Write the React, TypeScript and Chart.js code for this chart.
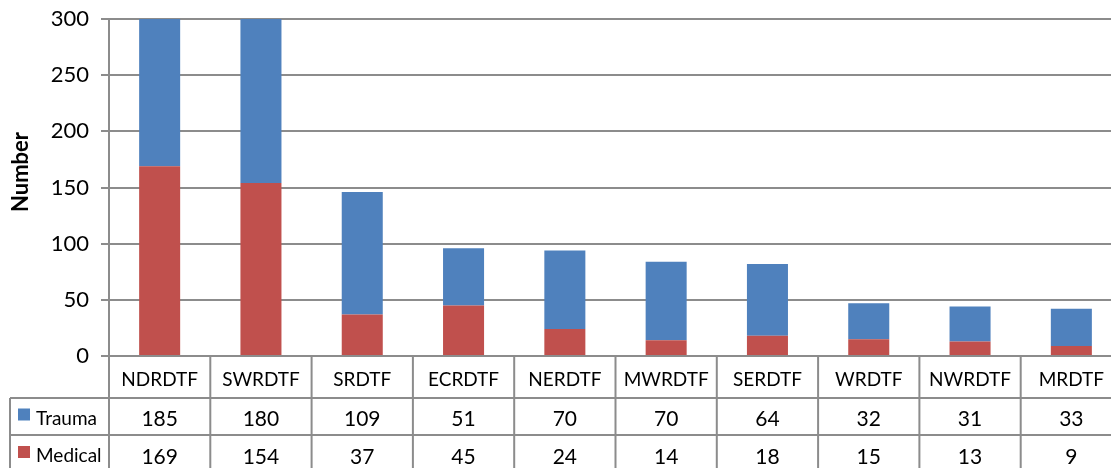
import React, { useEffect, useRef } from "react";
import { Chart, registerables } from "chart.js";

Chart.register(...registerables);

const categories = ["NDRDTF", "SWRDTF", "SRDTF", "ECRDTF", "NERDTF", "MWRDTF", "SERDTF", "WRDTF", "NWRDTF", "MRDTF"];
const medical = [169, 154, 37, 45, 24, 14, 18, 15, 13, 9];
const trauma = [185, 180, 109, 51, 70, 70, 64, 32, 31, 33];
const yTicks = [0, 50, 100, 150, 200, 250, 300];
const yTitle = "Number";

const BLUE = "#4F81BD";
const RED = "#C0504D";
const GRID = "#8c8c8c";
const FONT = "Lato, 'Open Sans', sans-serif";

const tablePlugin = {
  id: "dataTable",
  afterDraw(chart: any) {
    const ctx = chart.ctx;
    const x = chart.scales.x;
    const area = chart.chartArea;
    const n = categories.length;
    const colW = (area.right - area.left) / n;
    const top = area.bottom;
    const r1 = top + 42;
    const r2 = r1 + 37;
    const r3 = r2 + 38;
    const tableLeft = 10;
    ctx.save();
    ctx.strokeStyle = GRID;
    ctx.lineWidth = 2;
    ctx.beginPath();
    ctx.moveTo(tableLeft, r1); ctx.lineTo(area.right, r1);
    ctx.moveTo(tableLeft, r2); ctx.lineTo(area.right, r2);
    ctx.moveTo(tableLeft, r3); ctx.lineTo(area.right, r3);
    ctx.moveTo(tableLeft, r1); ctx.lineTo(tableLeft, r3);
    for (let i = 0; i <= n; i++) {
      const xx = area.left + i * colW;
      ctx.moveTo(xx, top); ctx.lineTo(xx, r3);
    }
    ctx.stroke();

    ctx.fillStyle = "#000";
    ctx.textAlign = "center";
    ctx.textBaseline = "middle";
    categories.forEach((c, i) => {
      const cx = x.getPixelForValue(i);
      ctx.font = `19px ${FONT}`;
      ctx.fillText(c, cx, (top + r1) / 2 + 3);
      ctx.font = `21px ${FONT}`;
      ctx.fillText(String(trauma[i]), cx, (r1 + r2) / 2 + 3);
      ctx.fillText(String(medical[i]), cx, (r2 + r3) / 2 + 3);
    });
    ctx.font = `19px ${FONT}`;
    ctx.textAlign = "left";
    ctx.fillStyle = BLUE;
    ctx.fillRect(18, (r1 + r2) / 2 - 8, 12, 12);
    ctx.fillStyle = RED;
    ctx.fillRect(18, (r2 + r3) / 2 - 8, 12, 12);
    ctx.fillStyle = "#000";
    ctx.fillText("Trauma", 36, (r1 + r2) / 2 + 2);
    ctx.fillText("Medical", 36, (r2 + r3) / 2 + 2);

    // y axis title
    ctx.save();
    ctx.translate(21, 172);
    ctx.rotate(-Math.PI / 2);
    ctx.textAlign = "center";
    ctx.font = `bold 22px ${FONT}`;
    ctx.fillText(yTitle, 0, 0);
    ctx.restore();
    ctx.restore();
  },
};

export default function App() {
  const ref = useRef<HTMLCanvasElement | null>(null);
  useEffect(() => {
    if (!ref.current) return;
    const chart = new Chart(ref.current, {
      type: "bar",
      data: {
        labels: categories,
        datasets: [
          { label: "Medical", data: medical, backgroundColor: RED, barPercentage: 0.405, categoryPercentage: 1 },
          { label: "Trauma", data: trauma, backgroundColor: BLUE, barPercentage: 0.405, categoryPercentage: 1 },
        ],
      },
      options: {
        responsive: false,
        animation: false,
        devicePixelRatio: 1,
        layout: { padding: { top: 19, right: 8, left: 0, bottom: 0 } },
        plugins: { legend: { display: false }, tooltip: { enabled: false } },
        scales: {
          x: {
            stacked: true,
            ticks: { display: false },
            grid: { display: false, drawTicks: false },
            border: { display: false },
            afterFit: (s: any) => { s.height = 124; },
          },
          y: {
            stacked: true,
            min: 0,
            max: 300,
            afterBuildTicks: (s: any) => { s.ticks = yTicks.map((v) => ({ value: v })); },
            ticks: { font: { family: FONT, size: 22 }, color: "#000", padding: 12 },
            grid: { color: GRID, lineWidth: 2, tickLength: 8 },
            border: { color: GRID, width: 2 },
            afterFit: (s: any) => { s.width = 109; s.paddingTop = 0; s.paddingBottom = 0; },
          },
        },
      },
      plugins: [tablePlugin],
    });
    return () => chart.destroy();
  }, []);
  return (
    <div style={{ position: "fixed", left: 0, top: 0, width: 1111, height: 468, overflow: "hidden", background: "#fff" }}>
      <canvas ref={ref} width={1130} height={480} style={{ display: "block", width: 1130, height: 480 }} />
    </div>
  );
}
